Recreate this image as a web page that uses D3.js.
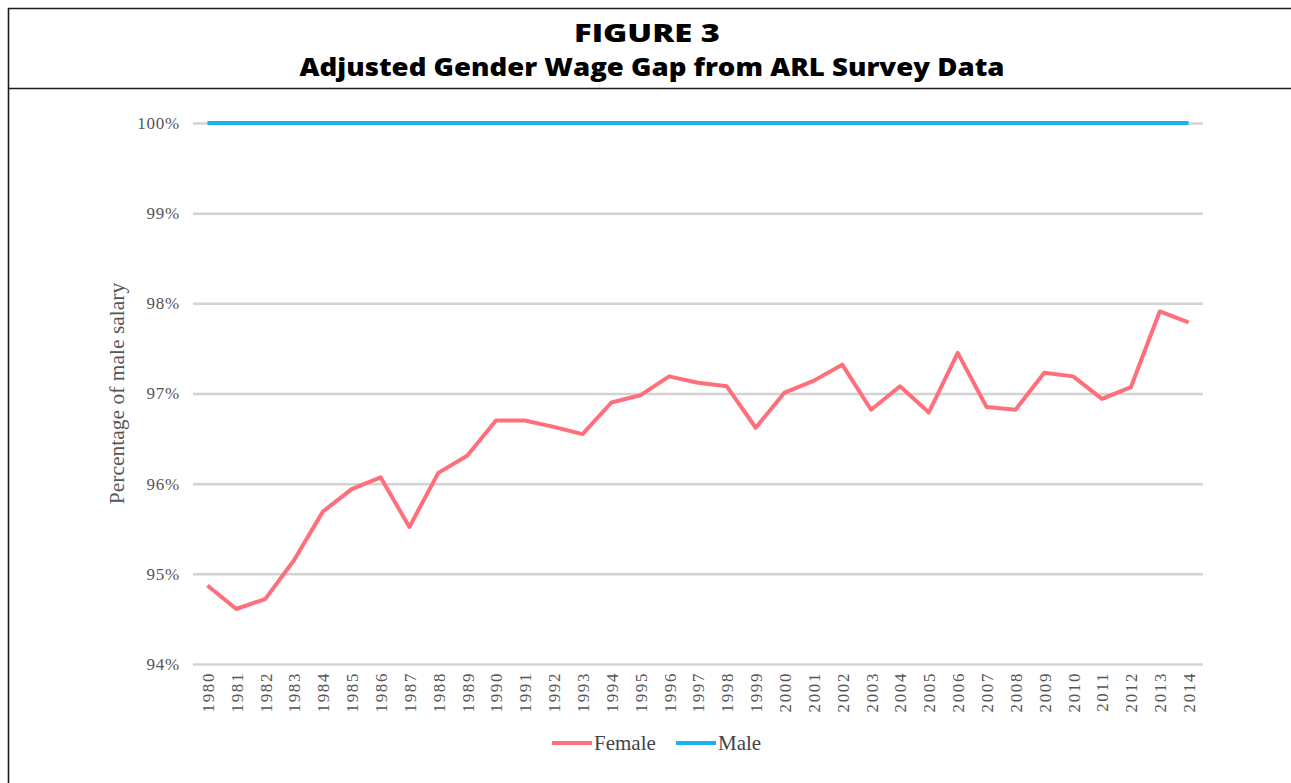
<!DOCTYPE html>
<html>
<head>
<meta charset="utf-8">
<script src="https://cdn.jsdelivr.net/npm/d3@7"></script>
<style>
    body { margin: 0; background: #fff; }
    .grid line { stroke: #d3d3d3; stroke-width: 2.5; }
    .axis text { font-family: "Liberation Serif", "DejaVu Serif", serif; fill: #555; }
    .line { fill: none; stroke-width: 4; stroke-linejoin: round; }
</style>
</head>
<body>
<div id="chart"></div>
<script>
// chart values
var years = ["1980","1981","1982","1983","1984","1985","1986","1987","1988","1989",
    "1990","1991","1992","1993","1994","1995","1996","1997","1998","1999",
    "2000","2001","2002","2003","2004","2005","2006","2007","2008","2009",
    "2010","2011","2012","2013","2014"];

var female = [94.87, 94.61, 94.72, 95.15, 95.69, 95.94, 96.07, 95.52, 96.12, 96.31,
    96.70, 96.70, 96.63, 96.55, 96.90, 96.98, 97.19, 97.12, 97.08, 96.62,
    97.01, 97.14, 97.32, 96.82, 97.08, 96.79, 97.45, 96.85, 96.82, 97.23,
    97.19, 96.94, 97.07, 97.91, 97.79];

var male = [100, 100, 100, 100, 100, 100, 100, 100, 100, 100,
    100, 100, 100, 100, 100, 100, 100, 100, 100, 100,
    100, 100, 100, 100, 100, 100, 100, 100, 100, 100,
    100, 100, 100, 100, 100];

var yTicks = [94, 95, 96, 97, 98, 99, 100];
var seriesNames = ["Female", "Male"];
var seriesColors = ["#ff6f7a", "#1bb3ee"];

var titleLines = ["FIGURE 3", "Adjusted Gender Wage Gap from ARL Survey Data"];
var yTitle = "Percentage of male salary";

var W = 1291, H = 783;
var margin = {top: 123, right: 88, bottom: 119, left: 193};

var svg = d3.select("#chart")
    .append("svg")
        .attr("width", W)
        .attr("height", H);

// frame round the figure
svg.append("path")
    .attr("d", "M1300,8.5H8.5V790")
    .attr("fill", "none")
    .attr("stroke", "#1a1a1a")
    .attr("stroke-width", 1.6);
svg.append("line")
    .attr("x1", 8).attr("x2", 1300)
    .attr("y1", 88.5).attr("y2", 88.5)
    .attr("stroke", "#1a1a1a")
    .attr("stroke-width", 1.6);

// heading
svg.append("text")
    .attr("x", 647).attr("y", 42)
    .attr("text-anchor", "middle")
    .attr("textLength", 146)
    .attr("lengthAdjust", "spacingAndGlyphs")
    .style("font-family", "'Open Sans', sans-serif")
    .style("font-weight", "800")
    .style("font-size", "25px")
    .text(titleLines[0]);
svg.append("text")
    .attr("x", 652).attr("y", 76)
    .attr("text-anchor", "middle")
    .attr("textLength", 705)
    .attr("lengthAdjust", "spacingAndGlyphs")
    .style("font-family", "'Open Sans', sans-serif")
    .style("font-weight", "800")
    .style("font-size", "24px")
    .text(titleLines[1]);

// scales
var x = d3.scalePoint()
    .domain(years)
    .range([margin.left, W - margin.right])
    .padding(0.5);
var y = d3.scaleLinear()
    .domain([94, 100])
    .range([H - margin.bottom, margin.top]);

// gridlines
svg.append("g")
    .attr("class", "grid")
    .attr("transform", "translate(" + margin.left + ",0)")
    .call(d3.axisLeft(y).tickValues(yTicks).tickSize(-(W - margin.right - margin.left)).tickFormat(""))
    .call(function(g) { g.select(".domain").remove(); });

// y axis labels
svg.append("g")
    .attr("class", "axis")
    .attr("transform", "translate(" + (margin.left - 13) + ",0)")
    .call(d3.axisLeft(y).tickValues(yTicks).tickSize(0).tickPadding(0)
        .tickFormat(function(d) { return d + "%"; }))
    .call(function(g) { g.select(".domain").remove(); })
    .selectAll("text")
        .style("font-size", "17px")
        .style("letter-spacing", "0.8px");

// x axis labels
svg.append("g")
    .attr("class", "axis")
    .attr("transform", "translate(0," + (H - margin.bottom + 8) + ")")
    .call(d3.axisBottom(x).tickSize(0).tickPadding(0))
    .call(function(g) { g.select(".domain").remove(); })
    .selectAll("text")
        .style("font-size", "17px")
        .style("letter-spacing", "1.6px")
        .attr("transform", "rotate(-90)")
        .attr("text-anchor", "end")
        .attr("x", 0)
        .attr("y", 0)
        .attr("dy", "0.35em");

// y title
svg.append("text")
    .attr("transform", "translate(124," + y(97) + ") rotate(-90)")
    .attr("text-anchor", "middle")
    .style("font-family", "'Liberation Serif', serif")
    .style("font-size", "21.5px")
    .style("fill", "#555")
    .text(yTitle);

// lines
var line = d3.line()
    .x(function(d, i) { return x(years[i]); })
    .y(function(d) { return y(d); });

[female, male].forEach(function(s, i) {
    svg.append("path")
        .attr("class", "line")
        .attr("stroke", seriesColors[i])
        .attr("d", line(s));
});

// legend
var legendX = [552, 676];
var legend = svg.append("g").attr("transform", "translate(0,743)");
seriesNames.forEach(function(name, i) {
    legend.append("line")
        .attr("x1", legendX[i]).attr("x2", legendX[i] + 40)
        .attr("y1", 0).attr("y2", 0)
        .attr("stroke", seriesColors[i])
        .attr("stroke-width", 4);
    legend.append("text")
        .attr("x", legendX[i] + 42)
        .attr("y", 0)
        .attr("dy", "0.35em")
        .style("font-family", "'Liberation Serif', serif")
        .style("font-size", "21px")
        .style("fill", "#444")
        .text(name);
});
</script>
</body>
</html>
